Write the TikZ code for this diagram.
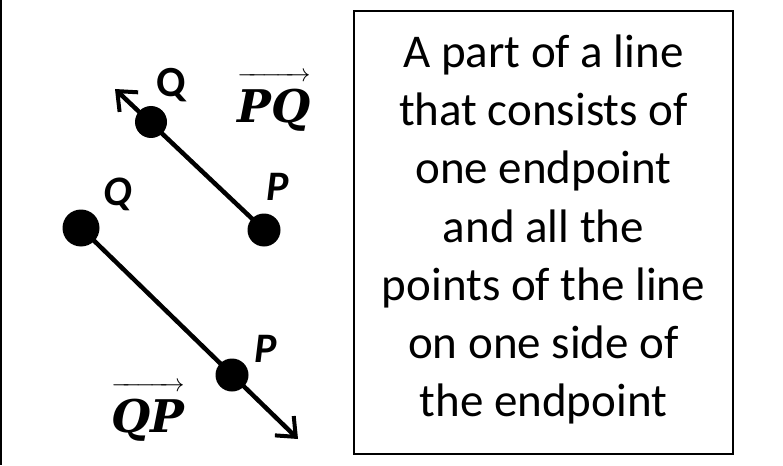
\documentclass[tikz,border=0pt]{standalone}
\usepackage{fontspec}
\setmainfont{Carlito}
\newfontfamily\rayfont{DejaVu Serif}
\usepackage{amsmath}
\usetikzlibrary{arrows.meta, positioning}

\tikzset{
  dot/.style={circle, fill=black, inner sep=0pt, minimum size=33pt},
  ray/.style={line width=4.5pt, -{Straight Barb[length=16pt, width=27pt, line width=4pt]}},
  ptlabel/.style={inner sep=0pt, anchor=base, font=\fontsize{42}{44}\selectfont\bfseries\itshape},
  raylabel/.style={inner sep=0pt, anchor=base, font=\fontsize{45}{50}\selectfont},
}
\newcommand{\raytext}[1]{$\overrightarrow{\hbox{\rule{0pt}{41pt}\rayfont\bfseries\itshape #1}}$}

\begin{document}
\begin{tikzpicture}[x=1pt, y=-1pt]
    \useasboundingbox (0,0) rectangle (783,465);
    % Slide edge
    \draw[line width=2pt] (1,0) -- (1,465);
    % Ray PQ
    \node[dot, minimum size=32pt] (q1) at (151,122) {};
    \node[dot] (p1) at (264,230) {};
    \coordinate (t1) at (115,89);
    \draw[ray] (p1.center) -- (t1);
    \node[inner sep=0pt, anchor=base, font=\fontsize{43}{44}\selectfont\bfseries] (lq1) at (171,97) {Q};
    \node[ptlabel] (lp1) at (278,200) {P};
    \node[raylabel] (pq) at (274,123) {\raytext{PQ}};
    % Ray QP
    \node[dot, minimum size=37pt] (q2) at (81,228) {};
    \node[dot] (p2) at (232,375) {};
    \coordinate (t2) at (298,439);
    \draw[ray] (q2.center) -- (t2);
    \node[ptlabel] (lq2) at (118,205) {Q};
    \node[ptlabel] (lp2) at (266,362) {P};
    \node[raylabel] (qp) at (148,432) {\raytext{QP}};
    % Definition
    \node[draw, line width=1.5pt, minimum width=379pt, minimum height=443pt] (box) at (543.5,232.5) {};
    \node[align=center, inner sep=0pt, font=\fontsize{47}{58.3}\selectfont] (def) at (543.5,229.5)
        {A part of a line\\that consists of\\one endpoint\\and all the\\points of the line\\on one side of\\the endpoint};
\end{tikzpicture}
\end{document}
